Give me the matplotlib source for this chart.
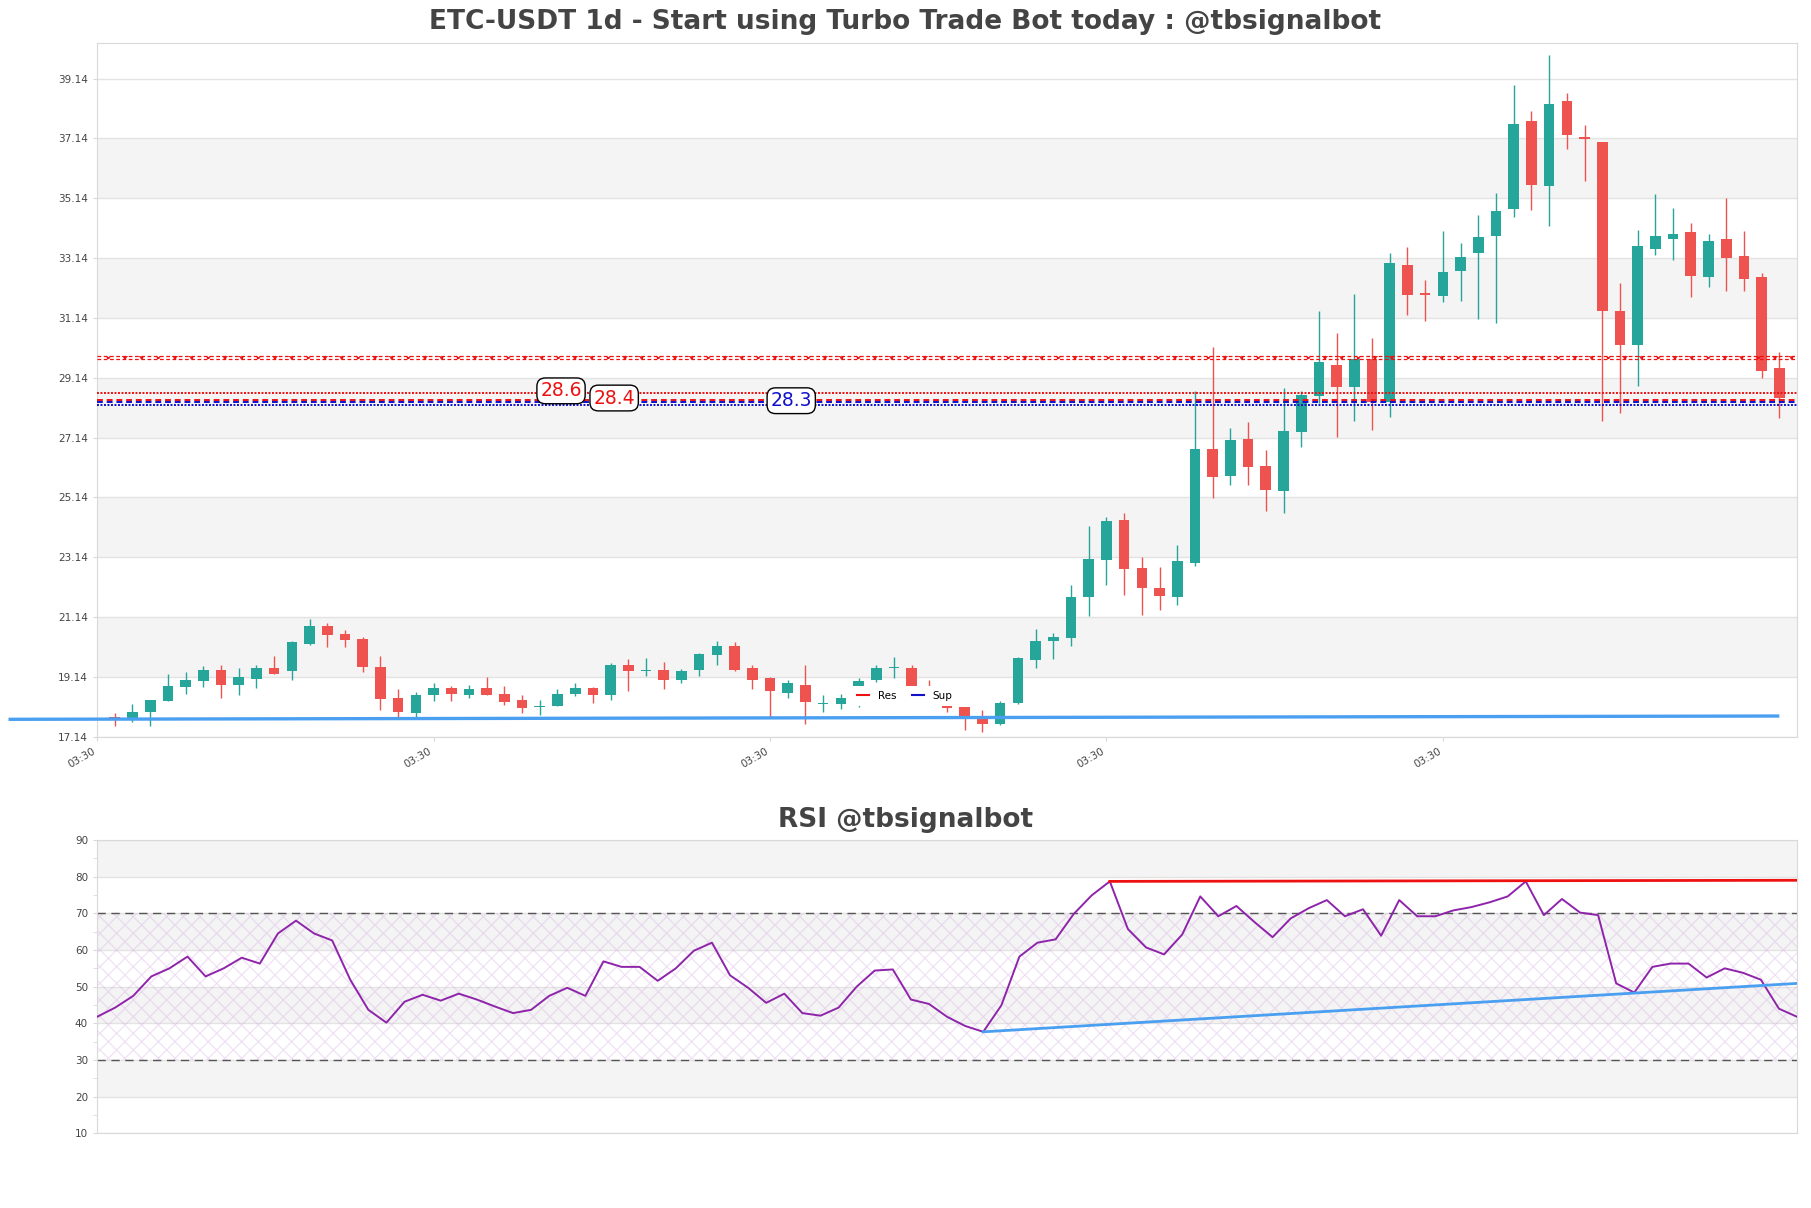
import matplotlib
matplotlib.use('Agg')
import matplotlib.pyplot as plt
import numpy as np
from matplotlib.lines import Line2D

plt.rcParams['hatch.linewidth'] = 0.9

# ---------------- data ----------------
opens = [17.78, 17.72, 17.96, 18.33, 18.80, 18.99, 19.38, 18.88, 19.08, 19.42,
         19.35, 20.25, 20.85, 20.58, 20.42, 19.48, 18.42, 17.93, 18.53, 18.77,
         18.53, 18.77, 18.58, 18.38, 18.14, 18.18, 18.58, 18.78, 18.53, 19.55,
         19.33, 19.38, 19.05, 19.36, 19.88, 20.18, 19.42, 19.11, 18.61, 18.88,
         18.23, 18.22, 18.83, 19.02, 19.43, 19.45, 18.72, 18.16, 18.12, 17.80,
         17.58, 18.25, 19.70, 20.33, 20.45, 21.80, 23.06, 24.38, 22.78, 22.12,
         21.80, 22.95, 26.75, 25.86, 27.08, 26.18, 25.35, 27.33, 28.53, 29.58,
         28.83, 29.77, 28.34, 32.92, 31.95, 31.86, 32.70, 33.30, 33.86, 34.78,
         37.73, 35.55, 38.38, 37.18, 37.02, 31.38, 30.22, 33.45, 33.78, 34.02,
         32.50, 33.78, 33.22, 32.51, 29.45]
highs = [17.92, 18.22, 18.35, 19.22, 19.30, 19.50, 19.53, 19.42, 19.55, 19.83,
         20.33, 21.08, 20.94, 20.72, 20.47, 19.85, 18.75, 18.64, 18.92, 18.85,
         18.88, 19.14, 18.85, 18.52, 18.38, 18.75, 18.94, 18.81, 19.61, 19.75,
         19.77, 19.65, 19.41, 19.94, 20.35, 20.30, 19.55, 19.13, 19.02, 19.52,
         18.52, 18.55, 19.11, 19.55, 19.81, 19.54, 19.05, 18.16, 18.14, 18.02,
         18.32, 19.81, 20.75, 20.62, 22.22, 24.19, 24.47, 24.63, 23.15, 22.82,
         23.55, 28.70, 30.16, 27.45, 27.67, 26.72, 28.81, 28.70, 31.37, 30.64,
         31.95, 30.45, 33.31, 33.51, 32.42, 34.03, 33.64, 34.58, 35.30, 38.92,
         38.05, 39.92, 38.66, 37.58, 37.02, 32.31, 34.08, 35.28, 34.81, 34.31,
         33.95, 35.14, 34.03, 32.64, 29.99]
lows = [17.50, 17.63, 17.50, 18.33, 18.55, 18.81, 18.42, 18.52, 18.77, 19.25,
        19.02, 20.22, 20.13, 20.13, 19.30, 18.03, 17.75, 17.77, 18.33, 18.33,
        18.42, 18.53, 18.20, 17.94, 17.86, 18.16, 18.50, 18.25, 18.36, 18.66,
        19.16, 18.72, 18.94, 19.18, 19.52, 19.33, 18.75, 17.81, 18.42, 17.55,
        17.96, 18.05, 18.14, 18.97, 19.10, 18.83, 18.30, 17.96, 17.36, 17.31,
        17.52, 18.23, 19.45, 19.75, 20.16, 21.17, 22.22, 21.86, 21.20, 21.36,
        21.55, 22.86, 25.12, 25.56, 25.56, 24.70, 24.63, 26.83, 28.31, 27.16,
        27.70, 27.40, 27.83, 31.25, 31.03, 31.66, 31.69, 31.11, 30.97, 34.50,
        34.75, 34.22, 36.78, 35.70, 27.70, 27.97, 28.86, 33.25, 33.08, 31.83,
        32.16, 32.05, 32.03, 29.14, 27.78]
closes = [17.75, 17.98, 18.35, 18.82, 19.02, 19.38, 18.88, 19.12, 19.42, 19.25,
          20.32, 20.85, 20.53, 20.38, 19.46, 18.40, 17.96, 18.54, 18.77, 18.55,
          18.75, 18.53, 18.30, 18.10, 18.18, 18.57, 18.78, 18.53, 19.52, 19.35,
          19.36, 19.03, 19.35, 19.92, 20.18, 19.38, 19.05, 18.66, 18.92, 18.30,
          18.25, 18.42, 18.99, 19.42, 19.47, 18.83, 18.35, 18.10, 17.78, 17.58,
          18.25, 19.78, 20.35, 20.47, 21.82, 23.08, 24.35, 22.76, 22.10, 21.83,
          23.02, 26.75, 25.83, 27.05, 26.16, 25.40, 27.35, 28.55, 29.65, 28.83,
          29.77, 28.34, 32.96, 31.92, 31.92, 32.68, 33.18, 33.85, 34.72, 37.61,
          35.58, 38.28, 37.25, 37.13, 31.36, 30.22, 33.55, 33.88, 33.95, 32.55,
          33.72, 33.15, 32.45, 29.36, 28.47]
rsi = [41.8, 44.3, 47.5, 52.8, 55.0, 58.2, 52.8, 55.0, 57.9, 56.3,
       64.5, 68.0, 64.5, 62.6, 51.9, 43.7, 40.2, 45.9, 47.8, 46.2,
       48.1, 46.5, 44.6, 42.8, 43.7, 47.5, 49.7, 47.5, 56.9, 55.4,
       55.4, 51.6, 55.0, 59.8, 62.0, 53.1, 49.7, 45.6, 48.1, 42.8,
       42.1, 44.3, 50.0, 54.4, 54.7, 46.5, 45.3, 41.8, 39.3, 37.7,
       44.9, 58.2, 62.0, 62.9, 69.8, 74.9, 78.7, 65.7, 60.7, 58.8,
       64.2, 74.6, 69.2, 72.0, 67.6, 63.5, 68.6, 71.4, 73.6, 69.2,
       71.1, 63.9, 73.6, 69.2, 69.2, 70.8, 71.7, 73.0, 74.6, 78.7,
       69.5, 73.9, 70.2, 69.5, 50.9, 48.4, 55.4, 56.3, 56.3, 52.5,
       55.0, 53.8, 51.9, 44.0, 41.8]

x_tick_labels = ['03:30', '03:30', '03:30', '03:30', '03:30']
res_levels = [28.62, 28.41]
res_styles = [(0, (1, 0.8)), (0, (3, 2))]
res_label_x = [25.2, 28.2]
res_label_dy = [0.08, 0.05]
sup_levels = [28.34, 28.22]
sup_styles = [(0, (3, 2)), (0, (1, 0.8))]
sup_label_x = [38.2, None]
res_x_level = 29.81
support_line_x = [-6, 94]
support_line_y = [17.72, 17.83]
rsi_res_x = [56, 94]
rsi_res_y = [78.7, 79.0]
rsi_sup_x = [49, 94]
rsi_sup_y = [37.7, 50.9]

GREEN = '#26a69a'
RED = '#ef5350'
BAND = '#f4f4f4'
GRID = '#e3e3e3'
SPINE = '#d9d9d9'
TXT = '#444444'
LRED = '#ee1111'
LBLUE = '#1111cc'

o = np.array(opens); h = np.array(highs); l = np.array(lows); c = np.array(closes)
n = len(c)
x = np.arange(n)

fig = plt.figure(figsize=(18.11, 12.08), dpi=100)
ax = fig.add_axes([0.0536, 0.3901, 0.9387, 0.5741])
ax2 = fig.add_axes([0.0536, 0.0617, 0.9387, 0.2430])

# ---------------- main chart ----------------
ymin = l.min() * 0.99
ymax = h.max() * 1.01
ax.set_xlim(-1, n)
ax.set_ylim(ymin, ymax)
yt = np.arange(ymin, ymax, 2)
ax.set_yticks(yt)
ax.set_yticklabels(['%.2f' % v for v in yt])
for i in range(len(yt)):
    if i % 2 == 1 and i + 1 < len(yt):
        ax.axhspan(yt[i], yt[i + 1], color=BAND, zorder=0, lw=0)
    ax.axhline(yt[i], color=GRID, lw=1, zorder=0.5)

up = c >= o
cols = np.where(up, GREEN, RED)
ax.vlines(x, l, h, colors=cols, lw=1.0, zorder=3)
body_h = np.maximum(np.abs(c - o), 0.04)
ax.bar(x, body_h, bottom=np.minimum(o, c), width=0.6, color=cols, zorder=3, lw=0)

# resistance / support levels
for lv, st in zip(res_levels, res_styles):
    ax.axhline(lv, color=LRED, ls=st, lw=1.4, zorder=4)
for lv, st in zip(sup_levels, sup_styles):
    ax.axhline(lv, color=LBLUE, ls=st, lw=1.4, zorder=4)
ax.fill_between([-1, n], res_x_level - 0.06, res_x_level + 0.06, facecolor='none',
                edgecolor=LRED, hatch='xx', lw=0, zorder=4)
ax.axhline(res_x_level - 0.06, color=LRED, ls=(0, (3, 2)), lw=0.9, zorder=4)
ax.axhline(res_x_level + 0.06, color=LRED, ls=(0, (3, 2)), lw=0.9, zorder=4)

box = dict(boxstyle='round,pad=0.18,rounding_size=0.45', fc='white', ec='black', lw=1)
for lv, lx, dy in zip(res_levels, res_label_x, res_label_dy):
    ax.text(lx, lv + dy, '%.1f' % lv, color=LRED, fontsize=13.5,
            ha='center', va='center', bbox=box, zorder=6)
for lv, lx in zip(sup_levels, sup_label_x):
    if lx is not None:
        ax.text(lx, lv + 0.03, '%.1f' % lv, color=LBLUE, fontsize=13.5,
                ha='center', va='center', bbox=box, zorder=6)

ax.plot(support_line_x, support_line_y, color='#4a9ff0', lw=2.4, zorder=5,
        clip_on=False, solid_capstyle='butt')

handles = [Line2D([0], [0], color=LRED, lw=1.5), Line2D([0], [0], color=LBLUE, lw=1.5)]
leg = ax.legend(handles, ['Res', 'Sup'], loc='center', bbox_to_anchor=(0.475, 0.0587),
                ncol=2, fontsize=7.5, frameon=True, framealpha=1, edgecolor='none',
                facecolor='white', handlelength=1.2, columnspacing=1.5, borderpad=0.45)
leg.set_zorder(7)

xt = np.arange(-1, n - 1, 19)
ax.set_xticks(xt)
ax.set_xticklabels(x_tick_labels[:len(xt)], rotation=30, ha='right', fontsize=7.5, color=TXT)

for a in (ax, ax2):
    for s in a.spines.values():
        s.set_color(SPINE)
    a.tick_params(axis='both', colors=SPINE, labelcolor=TXT, labelsize=7.5, length=3)

# ---------------- RSI ----------------
ax2.set_xlim(0, n - 1)
ax2.set_ylim(10, 90)
rt = np.arange(10, 91, 10)
ax2.set_yticks(rt)
ax2.set_yticks(np.arange(15, 90, 10), minor=True)
ax2.tick_params(axis='y', which='minor', length=3, colors=SPINE)
for i in range(len(rt) - 1):
    if i % 2 == 1:
        ax2.axhspan(rt[i], rt[i + 1], color=BAND, zorder=0, lw=0)
for v in rt:
    ax2.axhline(v, color=GRID, lw=1, zorder=0.5)
ax2.fill_between([0, n - 1], 30, 70, facecolor='none', edgecolor=(0.8, 0.62, 0.86, 0.3),
                 hatch='xx', lw=0, zorder=0.8)
ax2.axhline(30, color='#555555', ls=(0, (6, 4)), lw=1, zorder=2)
ax2.axhline(70, color='#555555', ls=(0, (6, 4)), lw=1, zorder=2)
ax2.plot(x, rsi, color='#8e24aa', lw=1.4, zorder=3)
ax2.plot(rsi_res_x, rsi_res_y, color=LRED, lw=2, zorder=4)
ax2.plot(rsi_sup_x, rsi_sup_y, color='#4a9ff0', lw=2, zorder=4)
ax2.set_xticks([])

fig.text(0.5, 1 - 22 / 1208, 'ETC-USDT 1d - Start using Turbo Trade Bot today : @tbsignalbot',
         ha='center', va='center', fontsize=19, fontweight='bold', color=TXT)
fig.text(0.5, 1 - 820 / 1208, 'RSI @tbsignalbot', ha='center', va='center',
         fontsize=19, fontweight='bold', color=TXT)

fig.savefig('out.png', dpi=100, facecolor='white')
